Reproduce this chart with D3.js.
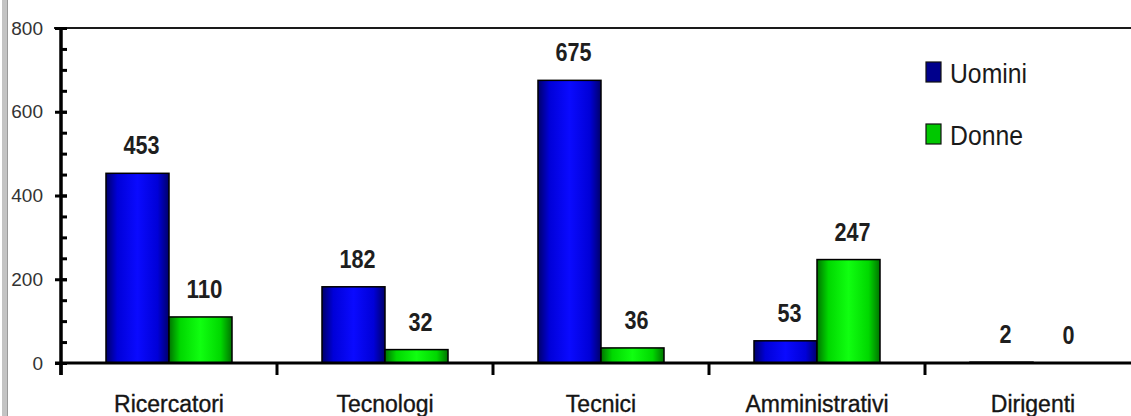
<!DOCTYPE html>
<html>
<head>
<meta charset="utf-8">
<script src="https://cdn.jsdelivr.net/npm/d3@7"></script>
<style>
  html, body { margin: 0; padding: 0; background: #fff; }
  svg { display: block; }
</style>
</head>
<body>
<svg id="chart" width="1131" height="416"></svg>
<script>
// Personale per profilo e genere
const categories = ["Ricercatori", "Tecnologi", "Tecnici", "Amministrativi", "Dirigenti"];
const seriesNames = ["Uomini", "Donne"];
const uomini = [453, 182, 675, 53, 2];
const donne = [110, 32, 36, 247, 0];
const yTickValues = [0, 200, 400, 600, 800];
const yMinorValues = d3.range(0, 801, 50);

const W = 1131, H = 416;
const svg = d3.select("#chart");
const fontMain = "'Liberation Sans', Arial, Helvetica, sans-serif";

const rows = categories.map((c, i) => ({ cat: c, values: [uomini[i], donne[i]] }));

const x = d3.scaleBand().domain(categories).range([61, 1141]).paddingInner(0).paddingOuter(0);
const xs = d3.scaleBand().domain(seriesNames).range([0, x.bandwidth()]).paddingInner(0).paddingOuter(0.714);
const y = d3.scaleLinear().domain([0, 800]).range([363, 28]);

// gradients for the bar fills
const defs = svg.append("defs");
function grad(id, edge, mid, center) {
  const g = defs.append("linearGradient").attr("id", id).attr("x1", 0).attr("x2", 1).attr("y1", 0).attr("y2", 0);
  [[0, edge], [0.18, mid], [0.5, center], [0.82, mid], [1, edge]].forEach(([o, c]) =>
    g.append("stop").attr("offset", o).attr("stop-color", c));
}
grad("gUomini", "#00006a", "#0000d8", "#0a0aff");
grad("gDonne", "#007400", "#00d800", "#10ff10");
const fills = { Uomini: "url(#gUomini)", Donne: "url(#gDonne)" };

// left frame strip
svg.append("rect").attr("x", 2).attr("y", 0).attr("width", 5).attr("height", H).attr("fill", "#c4c4c4");
svg.append("line").attr("x1", 7.5).attr("x2", 7.5).attr("y1", 0).attr("y2", H).attr("stroke", "#9a9a9a").attr("stroke-width", 1);

// plot area top border
svg.append("line").attr("x1", 54).attr("x2", W).attr("y1", y(800)).attr("y2", y(800))
  .attr("stroke", "#1a1a1a").attr("stroke-width", 2);

// bars
const groups = svg.append("g").selectAll("g").data(rows).join("g")
  .attr("transform", d => `translate(${x(d.cat)},0)`);

groups.selectAll("rect").data(d => d.values.map((v, j) => ({ s: seriesNames[j], v })))
  .join("rect")
  .attr("x", d => xs(d.s))
  .attr("y", d => y(d.v))
  .attr("width", xs.bandwidth())
  .attr("height", d => y(0) - y(d.v))
  .attr("fill", d => fills[d.s])
  .attr("stroke", "#000")
  .attr("stroke-width", 1.5);

// value labels
groups.selectAll("text").data(d => d.values.map((v, j) => ({ s: seriesNames[j], v })))
  .join("text")
  .attr("x", d => xs(d.s) + xs.bandwidth() / 2 + 4)
  .attr("y", d => y(d.v) - 19)
  .attr("text-anchor", "middle")
  .attr("font-family", fontMain)
  .attr("font-weight", "bold")
  .attr("font-size", 25)
  .attr("fill", "#1e1e1e")
  .attr("textLength", d => String(d.v).length * 12)
  .attr("lengthAdjust", "spacingAndGlyphs")
  .text(d => d.v);

// y axis: major ticks with labels
const yAxis = d3.axisLeft(y).tickValues(yTickValues).tickSizeInner(6).tickSizeOuter(0).tickPadding(0).tickFormat(d3.format("d"));
const gy = svg.append("g").attr("transform", "translate(61,0)").call(yAxis);
gy.select(".domain").remove();
gy.selectAll(".tick line").attr("stroke", "#000").attr("stroke-width", 3).attr("x1", 6).attr("x2", -6);
gy.selectAll(".tick text")
  .attr("x", -18)
  .attr("font-family", fontMain)
  .attr("font-size", 19)
  .attr("fill", "#333");

// y axis: minor ticks every 50 on the inner side
const yMinor = d3.axisRight(y).tickValues(yMinorValues).tickSize(6).tickFormat("");
const gm = svg.append("g").attr("transform", "translate(61,0)").call(yMinor);
gm.select(".domain").remove();
gm.selectAll(".tick line").attr("stroke", "#000").attr("stroke-width", 3);

// y axis line
svg.append("line").attr("x1", 61).attr("x2", 61).attr("y1", y(800) - 1).attr("y2", y(0) + 12)
  .attr("stroke", "#000").attr("stroke-width", 3.5);

// x axis line
svg.append("line").attr("x1", 55).attr("x2", W).attr("y1", y(0)).attr("y2", y(0))
  .attr("stroke", "#000").attr("stroke-width", 3);

// category boundary ticks and labels
const boundaries = categories.map(c => x(c)).concat([x.range()[1]]);
svg.append("g").selectAll("line").data(boundaries).join("line")
  .attr("x1", d => d).attr("x2", d => d)
  .attr("y1", y(0)).attr("y2", y(0) + 12)
  .attr("stroke", "#000").attr("stroke-width", 3);

const xAxis = d3.axisBottom(x).tickSize(0).tickPadding(0);
const gx = svg.append("g").attr("transform", `translate(0,${y(0)})`).call(xAxis);
gx.select(".domain").remove();
gx.selectAll(".tick text")
  .attr("dy", null)
  .attr("y", 49)
  .attr("font-family", fontMain)
  .attr("font-size", 23)
  .attr("fill", "#151515")
  .attr("stroke", "#151515")
  .attr("stroke-width", 0.35);

// legend
const legendFill = { Uomini: "#00008c", Donne: "#00c800" };
const legendW = { Uomini: 77, Donne: 73 };
const legend = svg.append("g").selectAll("g").data(seriesNames).join("g")
  .attr("transform", (d, i) => `translate(926,${62 + i * 62})`);
legend.append("rect").attr("width", 15).attr("height", 20)
  .attr("fill", d => legendFill[d]).attr("stroke", "#111").attr("stroke-width", 1.2);
legend.append("text")
  .attr("x", 24).attr("y", 20.5)
  .attr("font-family", fontMain)
  .attr("font-size", 27)
  .attr("fill", "#1a1a1a")
  .attr("textLength", d => legendW[d])
  .attr("lengthAdjust", "spacingAndGlyphs")
  .text(d => d);
</script>
</body>
</html>
